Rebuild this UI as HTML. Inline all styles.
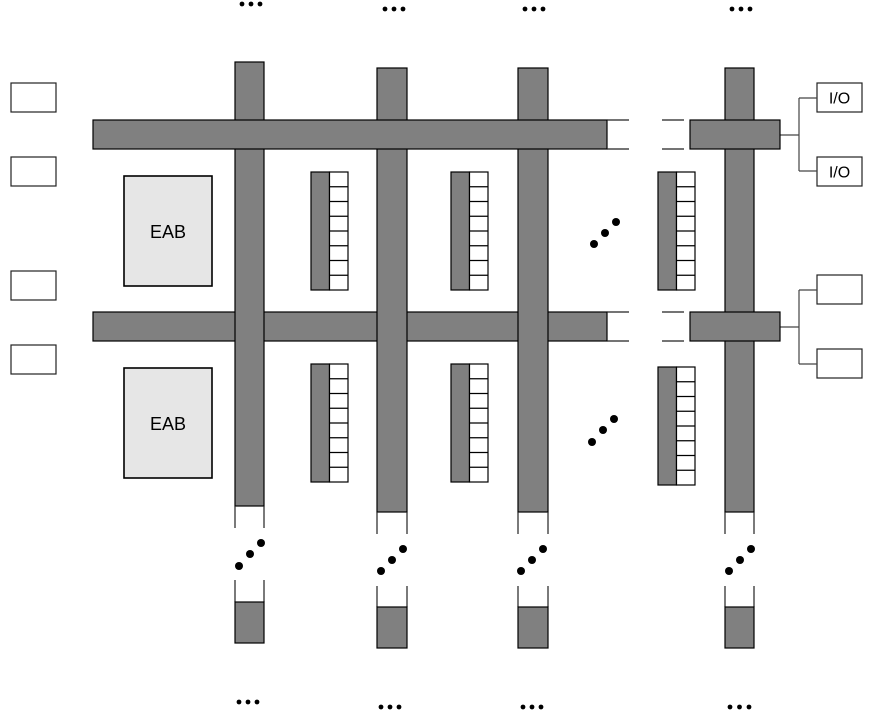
<!DOCTYPE html>
<html><head><meta charset="utf-8"><style>
html,body{margin:0;padding:0;background:#fff;}
svg{display:block;}
text{font-family:"Liberation Sans",Arial,sans-serif;}
</style></head><body>
<svg width="884" height="711" viewBox="0 0 884 711" xmlns="http://www.w3.org/2000/svg">
<g fill="#fff" stroke="#222" stroke-width="1.2">
<rect x="11" y="83" width="45" height="29"/>
<rect x="11" y="157" width="45" height="29"/>
<rect x="11" y="271" width="45" height="29"/>
<rect x="11" y="345" width="45" height="29"/>
<rect x="817" y="83" width="45" height="29"/>
<rect x="817" y="157" width="45" height="29"/>
<rect x="817" y="275" width="45" height="29"/>
<rect x="817" y="349" width="45" height="29"/>
</g>
<text x="839.5" y="103.5" font-size="16" text-anchor="middle" fill="#000">I/O</text>
<text x="839.5" y="177.5" font-size="16" text-anchor="middle" fill="#000">I/O</text>
<g stroke="#444" stroke-width="1.2" fill="none">
<path d="M780 135H799M799 98V171M799 98H817M799 171H817"/>
<path d="M780 327H799M799 290V364M799 290H817M799 364H817"/>
</g>
<g fill="#e6e6e6" stroke="#000" stroke-width="1.6">
<rect x="124" y="176" width="88" height="110"/>
<rect x="124" y="368" width="88" height="110"/>
</g>
<text x="168" y="238" font-size="18" text-anchor="middle" fill="#000">EAB</text>
<text x="168" y="430" font-size="18" text-anchor="middle" fill="#000">EAB</text>
<g fill="#808080" stroke="#000" stroke-width="1.2">
<rect x="93" y="312" width="514" height="29"/>
<rect x="235" y="62" width="29" height="444"/>
<rect x="377" y="68" width="30" height="444"/>
<rect x="518" y="68" width="30" height="444"/>
<rect x="725" y="68" width="29" height="444"/>
<rect x="93" y="120" width="514" height="29"/>
<rect x="690" y="120" width="90" height="29"/>
<rect x="690" y="312" width="90" height="29"/>
</g>
<g stroke="#222" stroke-width="1.2" fill="none">
<path d="M607 120H629M607 149H629M662 120H684M662 149H684"/>
<path d="M607 312H629M607 341H629M662 312H684M662 341H684"/>
</g>
<defs>
<g id="mem">
<rect x="0" y="0" width="18.5" height="118" fill="#808080" stroke="#000" stroke-width="1.2"/>
<rect x="18.5" y="0" width="18.5" height="118" fill="#fff" stroke="#000" stroke-width="1.2"/>
<path d="M18.5 14.75H37M18.5 29.5H37M18.5 44.25H37M18.5 59H37M18.5 73.75H37M18.5 88.5H37M18.5 103.25H37" stroke="#000" stroke-width="1.2"/>
</g>
</defs>
<use href="#mem" x="311" y="172"/>
<use href="#mem" x="451" y="172"/>
<use href="#mem" x="658" y="172"/>
<use href="#mem" x="311" y="364"/>
<use href="#mem" x="451" y="364"/>
<use href="#mem" x="658" y="367"/>
<g fill="#000">
<circle cx="594" cy="244" r="4"/><circle cx="605" cy="233" r="4"/><circle cx="616" cy="222" r="4"/>
<circle cx="592" cy="442" r="4"/><circle cx="603" cy="430" r="4"/><circle cx="614" cy="419" r="4"/>
<circle cx="239" cy="566" r="4"/><circle cx="250" cy="554" r="4"/><circle cx="261" cy="543" r="4"/>
<circle cx="381" cy="571" r="4"/><circle cx="392" cy="560" r="4"/><circle cx="403" cy="549" r="4"/>
<circle cx="521" cy="571" r="4"/><circle cx="532" cy="560" r="4"/><circle cx="543" cy="549" r="4"/>
<circle cx="729" cy="571" r="4"/><circle cx="740" cy="560" r="4"/><circle cx="751" cy="549" r="4"/>
</g>
<g stroke="#222" stroke-width="1.2" fill="none">
<path d="M235 506V528M264 506V528M235 580V602M264 580V602"/>
<path d="M377 512V534M407 512V534M377 586V607M407 586V607"/>
<path d="M518 512V534M548 512V534M518 586V607M548 586V607"/>
<path d="M725 512V534M754 512V534M725 586V607M754 586V607"/>
</g>
<g fill="#808080" stroke="#000" stroke-width="1.2">
<rect x="235" y="602" width="29" height="41"/>
<rect x="377" y="607" width="30" height="41"/>
<rect x="518" y="607" width="30" height="41"/>
<rect x="725" y="607" width="29" height="41"/>
</g>
<g fill="#000">
<circle cx="242" cy="4" r="2.4"/><circle cx="251" cy="4" r="2.4"/><circle cx="260" cy="4" r="2.4"/>
<circle cx="385" cy="9" r="2.4"/><circle cx="394" cy="9" r="2.4"/><circle cx="403" cy="9" r="2.4"/>
<circle cx="525" cy="9" r="2.4"/><circle cx="534" cy="9" r="2.4"/><circle cx="543" cy="9" r="2.4"/>
<circle cx="732" cy="9" r="2.4"/><circle cx="741" cy="9" r="2.4"/><circle cx="750" cy="9" r="2.4"/>
<circle cx="239" cy="702" r="2.4"/><circle cx="248" cy="702" r="2.4"/><circle cx="257" cy="702" r="2.4"/>
<circle cx="381" cy="707" r="2.4"/><circle cx="390" cy="707" r="2.4"/><circle cx="399" cy="707" r="2.4"/>
<circle cx="523" cy="707" r="2.4"/><circle cx="532" cy="707" r="2.4"/><circle cx="541" cy="707" r="2.4"/>
<circle cx="730" cy="707" r="2.4"/><circle cx="739.5" cy="707" r="2.4"/><circle cx="749" cy="707" r="2.4"/>
</g>
</svg>
</body></html>
